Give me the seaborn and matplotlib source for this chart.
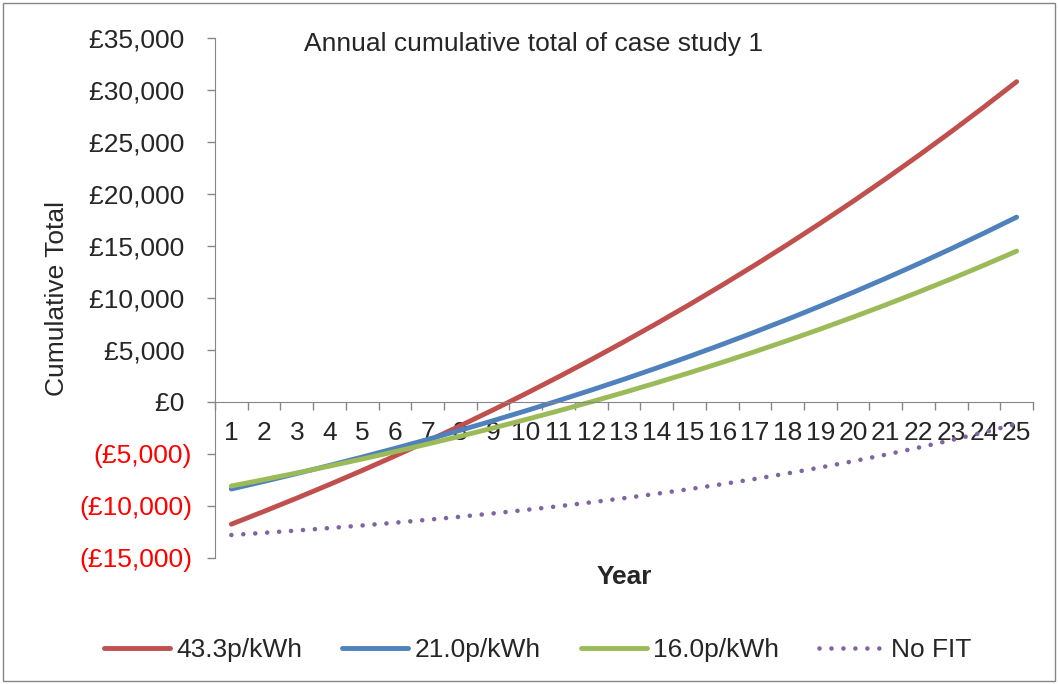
import pandas as pd
import numpy as np
import matplotlib.pyplot as plt
import seaborn as sns
from matplotlib.patches import Rectangle

sns.set_style("white")
plt.rcParams['font.family'] = ['Liberation Sans', 'DejaVu Sans']

# Data (cumulative total in £ per year)
years = list(range(1, 26))
fit_433 = [-11750, -10514, -9241, -7930, -6580, -5189, -3756, -2280, -760, 806,
           2419, 4080, 5791, 7553, 9368, 11238, 13164, 15148, 17191, 19295,
           21462, 23694, 25993, 28361, 30800]
fit_210 = [-8365, -7634, -6879, -6099, -5293, -4460, -3600, -2712, -1794, -846,
           133, 1145, 2190, 3270, 4385, 5537, 6727, 7956, 9226, 10538,
           11893, 13293, 14739, 16233, 17776]
fit_160 = [-8077, -7461, -6823, -6163, -5480, -4773, -4041, -3284, -2500, -1689,
           -849, 20, 919, 1850, 2813, 3810, 4842, 5910, 7015, 8159,
           9343, 10569, 11837, 13150, 14509]
no_fit = [-12790, -12580, -12357, -12121, -11871, -11606, -11325, -11027, -10711, -10376,
          -10021, -9645, -9246, -8823, -8375, -7900, -7397, -6863, -6297, -5697,
          -5061, -4387, -3673, -2916, -2114]

series_names = ['43.3p/kWh', '21.0p/kWh', '16.0p/kWh', 'No FIT']
series_vals = [fit_433, fit_210, fit_160, no_fit]
colors = ['#C0504D', '#4F81BD', '#9BBB59', '#8064A2']

y_ticks = list(range(-15000, 35001, 5000))

df = pd.DataFrame({'Year': years * 4,
                   'Total': sum(series_vals, []),
                   'Series': np.repeat(series_names, len(years))})

fs = 19

fig = plt.figure(figsize=(10.58, 6.84), dpi=100)
ax = fig.add_axes([215 / 1058, 1 - 558 / 684, 818 / 1058, 520 / 684])

for name, color in zip(series_names, colors):
    sub = df[df['Series'] == name]
    if name == 'No FIT':
        sns.lineplot(data=sub, x='Year', y='Total', ax=ax, color=color, linewidth=3.3,
                     linestyle=(0, (0.01, 2.6)), dash_capstyle='round', label=name)
    else:
        sns.lineplot(data=sub, x='Year', y='Total', ax=ax, color=color, linewidth=3.5,
                     solid_capstyle='round', label=name)

ax.set_xlim(0.5, 25.5)
ax.set_ylim(-15000, 35000)

# axis styling (Excel look)
axis_grey = '#868686'
for s in ['top', 'right']:
    ax.spines[s].set_visible(False)
ax.spines['left'].set_color(axis_grey)
ax.spines['bottom'].set_color(axis_grey)
ax.spines['bottom'].set_position(('data', 0))

ax.set_yticks(y_ticks)
ylabels = []
for v in y_ticks:
    if v < 0:
        ylabels.append('(£{:,})'.format(-v))
    else:
        # trailing space keeps digits aligned with the bracketed negatives
        ylabels.append('£{:,} '.format(v))
ax.set_yticklabels(ylabels, fontsize=fs)
for lab, v in zip(ax.get_yticklabels(), y_ticks):
    if v < 0:
        lab.set_color('#FF0000')
ax.tick_params(axis='y', direction='out', length=6, width=1, color=axis_grey, pad=10.5, left=True)

ax.set_xticks(np.arange(0.5, 26, 1))
ax.set_xticklabels([])
ax.set_xticks(years, minor=True)
ax.set_xticklabels([str(y) for y in years], minor=True, fontsize=fs)
ax.tick_params(axis='x', which='major', direction='out', length=6, width=1, color=axis_grey, bottom=True)
ax.tick_params(axis='x', which='minor', length=0, pad=14)

ax.set_ylabel('Cumulative Total', fontsize=fs)
ax.yaxis.set_label_coords(-0.178, 0.5)
ax.set_xlabel('Year', fontsize=fs, fontweight='bold')
ax.xaxis.set_label_coords(0.5, -0.0135)

ax.text(534 / 1058, 1 - 44 / 684, 'Annual cumulative total of case study 1',
        transform=fig.transFigure, ha='center', va='center', fontsize=fs)

ax.legend_.remove()
handles, labels = ax.get_legend_handles_labels()
fig.legend(handles, labels, loc='center', bbox_to_anchor=(538 / 1058, 1 - 650 / 684),
           ncol=4, frameon=False, fontsize=fs, handlelength=2.5, handletextpad=0.25,
           columnspacing=1.5)

fig.patches.append(Rectangle((0.003, 0.004), 0.994, 0.992, transform=fig.transFigure,
                             fill=False, edgecolor=axis_grey, linewidth=1))

plt.savefig('out.png', dpi=100)
